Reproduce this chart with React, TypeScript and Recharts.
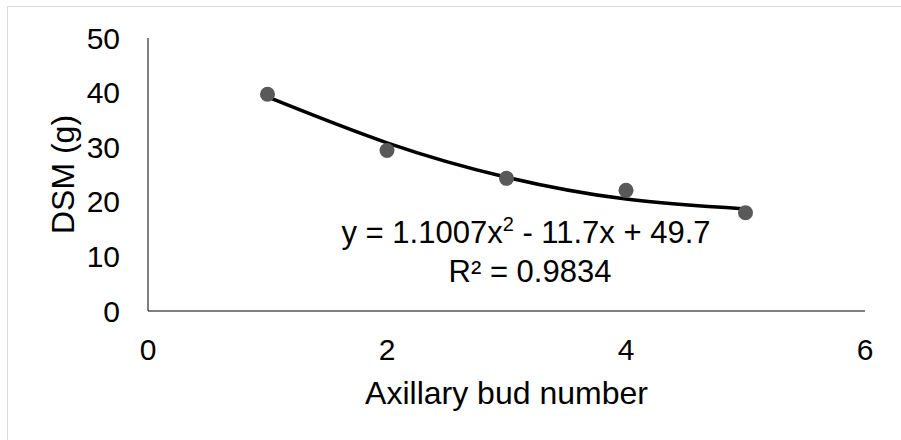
import React from 'react'
import { ComposedChart, Scatter, Line, XAxis, YAxis, Customized } from 'recharts'

// axillary bud number vs DSM (g)
const budNumbers = [1, 2, 3, 4, 5]
const dsmValues = [39.7, 29.4, 24.3, 22.1, 18.0]
// polynomial trendline as drawn in the picture
const trendValues = [39.2, 30.8, 24.5, 20.5, 18.7]
const xTicks = [0, 2, 4, 6]
const yTicks = [0, 10, 20, 30, 40, 50]

const equationLine = 'y = 1.1007x'
const equationRest = ' - 11.7x + 49.7'
const rSquared = 'R² = 0.9834'

const FONT = '"Liberation Sans", Arial, sans-serif'

const points = budNumbers.map((x, i) => ({ x, y: dsmValues[i] }))
const trend = budNumbers.map((x, i) => ({ x, trend: trendValues[i] }))

const XTitle = (props: any) => {
  const vb = props.viewBox || {}
  return (
    <text
      x={vb.x + vb.width / 2}
      y={vb.y + 93}
      textAnchor="middle"
      fontSize={32}
      fontFamily={FONT}
      fill="#000"
    >
      Axillary bud number
    </text>
  )
}

const YTitle = (props: any) => {
  const vb = props.viewBox || {}
  const cx = vb.x + 74
  const cy = vb.y + vb.height / 2
  return (
    <text
      x={cx}
      y={cy}
      transform={`rotate(-90 ${cx} ${cy})`}
      textAnchor="middle"
      fontSize={32}
      fontFamily={FONT}
      fill="#000"
    >
      DSM (g)
    </text>
  )
}

const Equation = () => (
  <g fontFamily={FONT} fill="#000">
    <text x={526} y={243} textAnchor="middle" fontSize={31}>
      {equationLine}
      <tspan dy={-12} fontSize={20}>
        2
      </tspan>
      <tspan dy={12}>{equationRest}</tspan>
    </text>
    <text x={530} y={282} textAnchor="middle" fontSize={31}>
      {rSquared}
    </text>
  </g>
)

export default function App() {
  return (
    <div style={{ position: 'absolute', left: 0, top: 0, width: 901, height: 440, background: '#fff' }}>
      <div
        style={{
          position: 'absolute',
          left: 7,
          top: 6,
          width: 894,
          height: 434,
          borderLeft: '1px solid #d9d9d9',
          borderTop: '1px solid #d9d9d9',
          boxSizing: 'border-box',
        }}
      />
      <ComposedChart
        width={901}
        height={440}
        margin={{ top: 38, right: 36, bottom: 0, left: 0 }}
        style={{ position: 'absolute', left: 0, top: 0 }}
      >
        <XAxis
          type="number"
          dataKey="x"
          domain={[0, 6]}
          ticks={xTicks}
          height={129}
          axisLine={{ stroke: '#000', strokeWidth: 1 }}
          tickLine={false}
          tickSize={0}
          tickMargin={28}
          tick={{ fill: '#000', fontSize: 30, fontFamily: FONT }}
          allowDuplicatedCategory={false}
          label={<XTitle />}
        />
        <YAxis
          type="number"
          domain={[0, 50]}
          ticks={yTicks}
          width={148}
          axisLine={{ stroke: '#000', strokeWidth: 1 }}
          tickLine={false}
          tickSize={0}
          tickMargin={28}
          tick={{ fill: '#000', fontSize: 30, fontFamily: FONT }}
          label={<YTitle />}
        />
        <Scatter
          data={points}
          dataKey="y"
          fill="#595959"
          shape={(p: any) => <circle cx={p.cx} cy={p.cy} r={7.5} fill="#595959" />}
          isAnimationActive={false}
        />
        <Line
          data={trend}
          dataKey="trend"
          type="natural"
          stroke="#000"
          strokeWidth={3.5}
          dot={false}
          activeDot={false}
          isAnimationActive={false}
        />
        <Customized component={Equation} />
      </ComposedChart>
    </div>
  )
}
